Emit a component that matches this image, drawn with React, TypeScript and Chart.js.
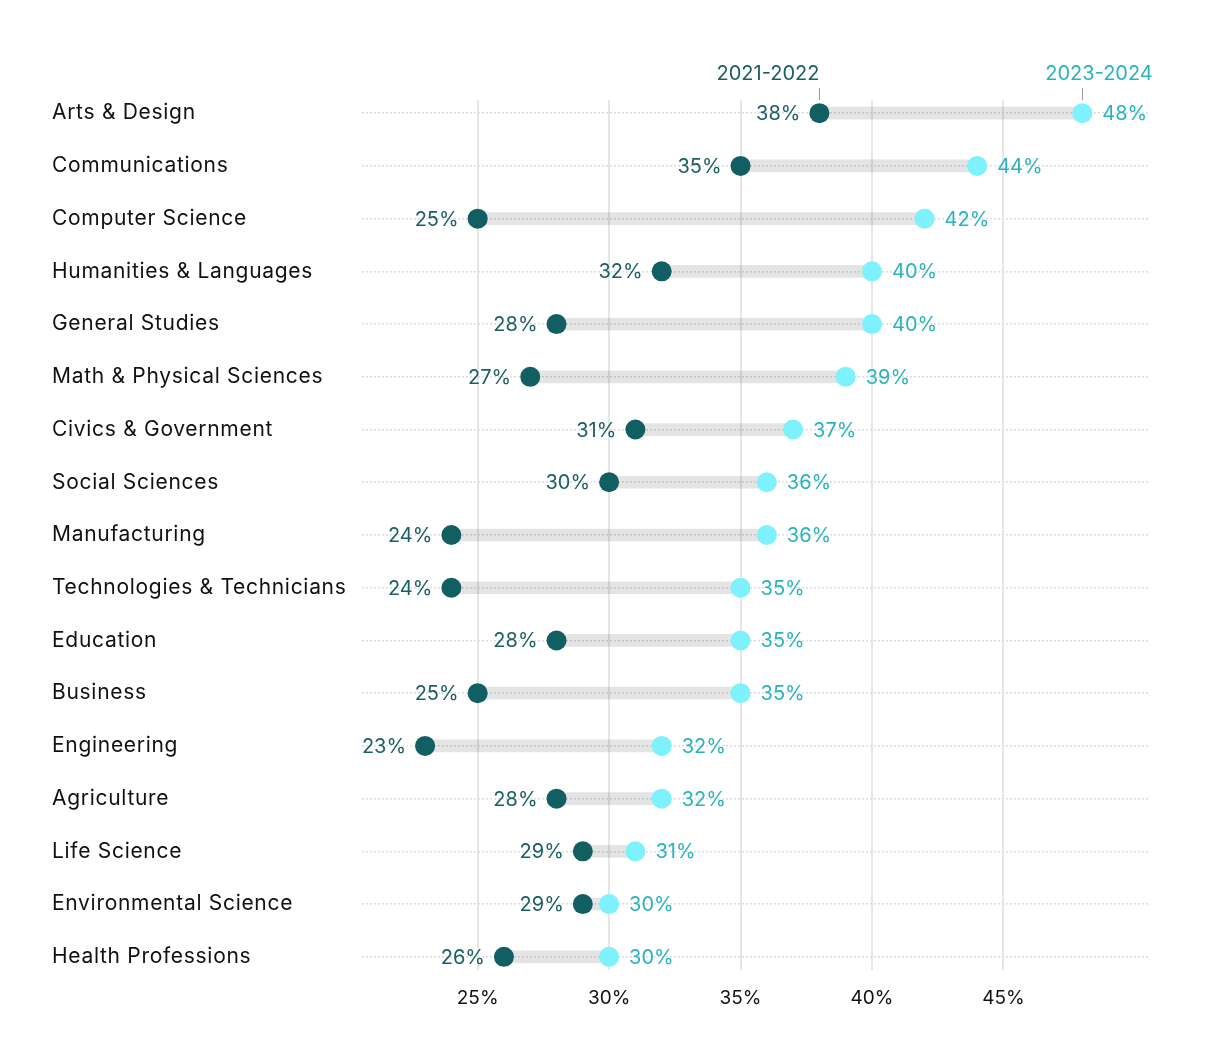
import React, { useEffect, useRef } from "react";
import { Chart, registerables } from "chart.js";

Chart.register(...registerables);

const categories = [
  "Arts & Design",
  "Communications",
  "Computer Science",
  "Humanities & Languages",
  "General Studies",
  "Math & Physical Sciences",
  "Civics & Government",
  "Social Sciences",
  "Manufacturing",
  "Technologies & Technicians",
  "Education",
  "Business",
  "Engineering",
  "Agriculture",
  "Life Science",
  "Environmental Science",
  "Health Professions",
];

const values2122 = [38, 35, 25, 32, 28, 27, 31, 30, 24, 24, 28, 25, 23, 28, 29, 29, 26];
const values2324 = [48, 44, 42, 40, 40, 39, 37, 36, 36, 35, 35, 35, 32, 32, 31, 30, 30];

const seriesNames = ["2021-2022", "2023-2024"];
const xTicks = [25, 30, 35, 40, 45];

const DARK = "#115f63";
const DARK_TEXT = "#1a5f63";
const CYAN = "#7df2fc";
const CYAN_TEXT = "#2ab3bd";
const FONT = "Inter, 'Noto Sans', sans-serif";

const labelPlugin = {
  id: "dumbbellLabels",
  beforeDraw(chart: any) {
    const y = chart.scales.y;
    if (y && !y.__patched) {
      const orig = y.drawLabels;
      y.drawLabels = function (area: any) {
        const ctx = this.ctx;
        ctx.save();
        (ctx as any).letterSpacing = "0.7px";
        orig.call(this, area);
        ctx.restore();
      };
      y.__patched = true;
    }
  },
  afterDatasetsDraw(chart: any) {
    const ctx = chart.ctx;
    const darkMeta = chart.getDatasetMeta(1);
    const cyanMeta = chart.getDatasetMeta(2);
    ctx.save();
    ctx.font = `400 20px ${FONT}`;
    ctx.textBaseline = "middle";
    darkMeta.data.forEach((el: any, i: number) => {
      ctx.fillStyle = DARK_TEXT;
      ctx.textAlign = "right";
      ctx.fillText(`${values2122[i]}%`, el.x - 19, el.y + 1);
    });
    cyanMeta.data.forEach((el: any, i: number) => {
      ctx.fillStyle = CYAN_TEXT;
      ctx.textAlign = "left";
      ctx.fillText(`${values2324[i]}%`, el.x + 20, el.y + 1);
    });
    const d0 = darkMeta.data[0];
    const c0 = cyanMeta.data[0];
    const top = chart.chartArea.top;
    ctx.strokeStyle = "#9a9a9a";
    ctx.lineWidth = 1;
    [d0, c0].forEach((el: any) => {
      ctx.beginPath();
      ctx.moveTo(Math.round(el.x) + 0.5, top - 12);
      ctx.lineTo(Math.round(el.x) + 0.5, top);
      ctx.stroke();
    });
    ctx.textBaseline = "middle";
    ctx.fillStyle = DARK_TEXT;
    ctx.textAlign = "right";
    ctx.fillText(seriesNames[0], d0.x, top - 26);
    ctx.fillStyle = CYAN_TEXT;
    ctx.textAlign = "left";
    ctx.fillText(seriesNames[1], c0.x - 37, top - 26);
    ctx.restore();
  },
};

export default function App() {
  const canvasRef = useRef<HTMLCanvasElement | null>(null);

  useEffect(() => {
    if (!canvasRef.current) return;
    const chart = new Chart(canvasRef.current, {
      type: "bar",
      data: {
        datasets: [
          {
            type: "bar",
            label: "range",
            data: categories.map((_, i) => ({ y: i, x: [values2122[i], values2324[i]] })) as any,
            backgroundColor: "rgba(0,0,0,0.105)",
            borderWidth: 0,
            barThickness: 12,
            order: 3,
          } as any,
          {
            type: "line",
            label: seriesNames[0],
            data: categories.map((_, i) => ({ y: i, x: values2122[i] })) as any,
            showLine: false,
            pointRadius: 10,
            pointHoverRadius: 10,
            pointBackgroundColor: DARK,
            pointBorderWidth: 0,
            order: 1,
          } as any,
          {
            type: "line",
            label: seriesNames[1],
            data: categories.map((_, i) => ({ y: i, x: values2324[i] })) as any,
            showLine: false,
            pointRadius: 10,
            pointHoverRadius: 10,
            pointBackgroundColor: CYAN,
            pointBorderWidth: 0,
            order: 2,
          } as any,
        ],
      },
      options: {
        indexAxis: "y",
        animation: false,
        responsive: true,
        maintainAspectRatio: false,
        layout: { padding: { top: 92, left: 44, right: 64, bottom: 28 } },
        plugins: {
          legend: { display: false },
          tooltip: { enabled: false },
        },
        scales: {
          x: {
            type: "linear",
            position: "bottom",
            min: 20.6,
            max: 50.5,
            offset: false,
            afterBuildTicks: (scale: any) => {
              scale.ticks = xTicks.map((v) => ({ value: v }));
            },
            afterFit: (scale: any) => {
              scale.height = 50;
            },
            ticks: {
              padding: 17,
              color: "#111",
              font: { family: FONT, size: 19 },
              callback: (v: any) => `${v}%`,
            },
            grid: { color: "#e6e6e6", lineWidth: 2, drawTicks: false, offset: false },
            border: { display: false },
          },
          y: {
            type: "linear",
            reverse: true,
            offset: false,
            min: -0.25,
            max: categories.length - 0.75,
            afterBuildTicks: (scale: any) => {
              scale.ticks = categories.map((_, i) => ({ value: i }));
            },
            afterFit: (scale: any) => {
              scale.width = 310;
            },
            ticks: {
              crossAlign: "far",
              color: "#111",
              font: { family: FONT, size: 21 },
              callback: (v: any) => categories[v] ?? "",
            },
            grid: { color: "#dedede", lineWidth: 1.6, drawTicks: false, offset: false },
            border: { display: false, dash: [2, 2] },
          },
        },
      } as any,
      plugins: [labelPlugin],
    });
    return () => chart.destroy();
  }, []);

  return (
    <div style={{ width: 1204, height: 1040, position: "relative" }}>
      <canvas ref={canvasRef} />
    </div>
  );
}
